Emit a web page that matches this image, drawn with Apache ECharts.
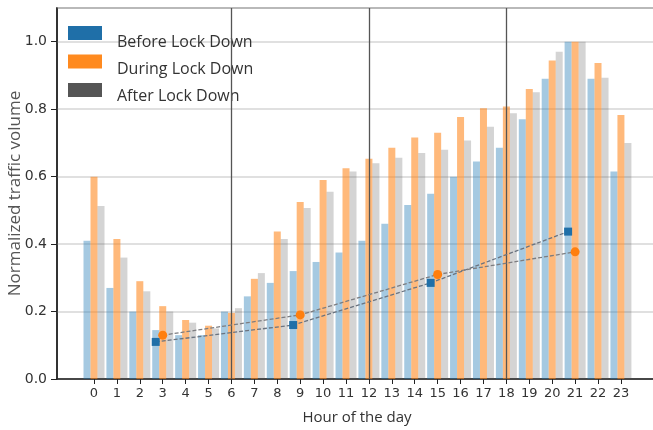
<!DOCTYPE html>
<html><head><meta charset="utf-8">
<script src="https://cdn.jsdelivr.net/npm/echarts@6/dist/echarts.min.js"></script>
<style>html,body{margin:0;padding:0;background:#fff}#c{width:653px;height:430px}</style>
</head><body><div id="c"></div>
<script>
const hours = [0,1,2,3,4,5,6,7,8,9,10,11,12,13,14,15,16,17,18,19,20,21,22,23];
const before = [0.41,0.27,0.20,0.145,0.13,0.13,0.20,0.245,0.285,0.32,0.347,0.375,0.41,0.46,0.516,0.549,0.60,0.645,0.686,0.77,0.89,1.0,0.89,0.615];
const during = [0.60,0.415,0.29,0.216,0.175,0.158,0.196,0.297,0.437,0.525,0.59,0.625,0.653,0.686,0.716,0.73,0.777,0.803,0.808,0.86,0.944,1.0,0.937,0.783];
const after  = [0.513,0.36,0.26,0.20,0.167,0.15,0.21,0.314,0.415,0.507,0.555,0.615,0.64,0.656,0.67,0.68,0.707,0.748,0.788,0.85,0.97,1.0,0.893,0.70];
const trendHours = [3,9,15,21];
const trendBefore = [0.11,0.16,0.285,0.437];
const trendDuring = [0.13,0.19,0.31,0.377];
const gridHours = [6,12,18];
const legendNames = ['Before Lock Down','During Lock Down','After Lock Down'];
const legendColors = ['#1f6fa8','#ff8a1f','#555555'];

const BW = 7; // bar width px
const pxPerHour = 22.91;
const offBefore = -BW/pxPerHour;

const chart = echarts.init(document.getElementById('c'));
const barSeries = (name, vals, color, op) => ({
  name, type:'bar', barWidth:BW, barGap:'0%',
  data: hours.map((h,i)=>[h, vals[i]]),
  itemStyle:{color, opacity:op}, silent:true, z:2
});
const s2 = barSeries('During Lock Down', during, '#ff7f0e', 0.55);
s2.markLine = {silent:true, symbol:'none', label:{show:false},
  lineStyle:{color:'#555', width:1.3, type:'solid'},
  data: gridHours.map(h=>({xAxis:h}))};
chart.setOption({
  animation:false,
  grid:{left:57, top:8, height:371, width:620, outerBoundsMode:'none', containLabel:false,
        show:true, borderColor:'#333', borderWidth:1.5},
  legend:[{
    orient:'vertical', left:63, top:20, itemWidth:34, itemHeight:14, itemGap:12.5,
    selectedMode:false, formatter:()=>' ',
    textStyle:{fontFamily:'Open Sans', fontSize:16, color:'#333'},
    data: legendNames.map((n,i)=>({name:n, icon:'rect', itemStyle:{color:legendColors[i], opacity:1}}))
  },{
    orient:'vertical', left:63, top:29, itemWidth:34, itemHeight:14, itemGap:11,
    selectedMode:false,
    textStyle:{fontFamily:'Open Sans', fontSize:16, color:'#333', padding:[0,0,0,10]},
    data: legendNames.map(n=>({name:n, icon:'rect', itemStyle:{opacity:0}}))
  }],
  xAxis:{
    type:'value', min:-1.615, max:(620-37)/22.91,
    name:'Hour of the day', nameLocation:'middle', nameGap:31,
    nameTextStyle:{fontFamily:'Open Sans', fontSize:15, color:'#333', padding:[0,20,0,0]},
    axisLine:{show:true, onZero:false, lineStyle:{color:'#222', width:1.5}},
    axisTick:{show:true, customValues:hours, length:5, lineStyle:{color:'#222'}},
    axisLabel:{customValues:hours, fontFamily:'DejaVu Sans', fontSize:13, color:'#333', margin:8},
    splitLine:{show:false}
  },
  yAxis:{
    type:'value', min:0, max:1.1, interval:0.2,
    name:'Normalized traffic volume', nameLocation:'middle', nameGap:33, nameMoveOverlap:false,
    nameTextStyle:{fontFamily:'Open Sans', fontSize:17, color:'#555'},
    axisLine:{show:true, onZero:false, lineStyle:{color:'#222', width:1.5}},
    axisTick:{show:true, length:6, lineStyle:{color:'#222'}},
    axisLabel:{showMaxLabel:false, fontFamily:'DejaVu Sans', fontSize:14, color:'#333', margin:10,
      formatter:v=>v.toFixed(1)},
    splitLine:{show:true, lineStyle:{color:'#d6d6d6', width:1.5}}
  },
  series:[
    barSeries('Before Lock Down', before, '#1f77b4', 0.4),
    s2,
    barSeries('After Lock Down', after, '#555555', 0.25),
    {type:'line', name:'trendB', data:trendHours.map((h,i)=>[h+offBefore, trendBefore[i]]),
     symbol:'rect', symbolSize:8, itemStyle:{color:'#1f6fa8'},
     lineStyle:{color:'#6b7480', width:1.3, type:[4,2]}, z:5, silent:true},
    {type:'line', name:'trendD', data:trendHours.map((h,i)=>[h, trendDuring[i]]),
     symbol:'circle', symbolSize:9, itemStyle:{color:'#ff7f0e'},
     lineStyle:{color:'#7d7d80', width:1.3, type:[4,2]}, z:5, silent:true}
  ]
});
</script></body></html>
